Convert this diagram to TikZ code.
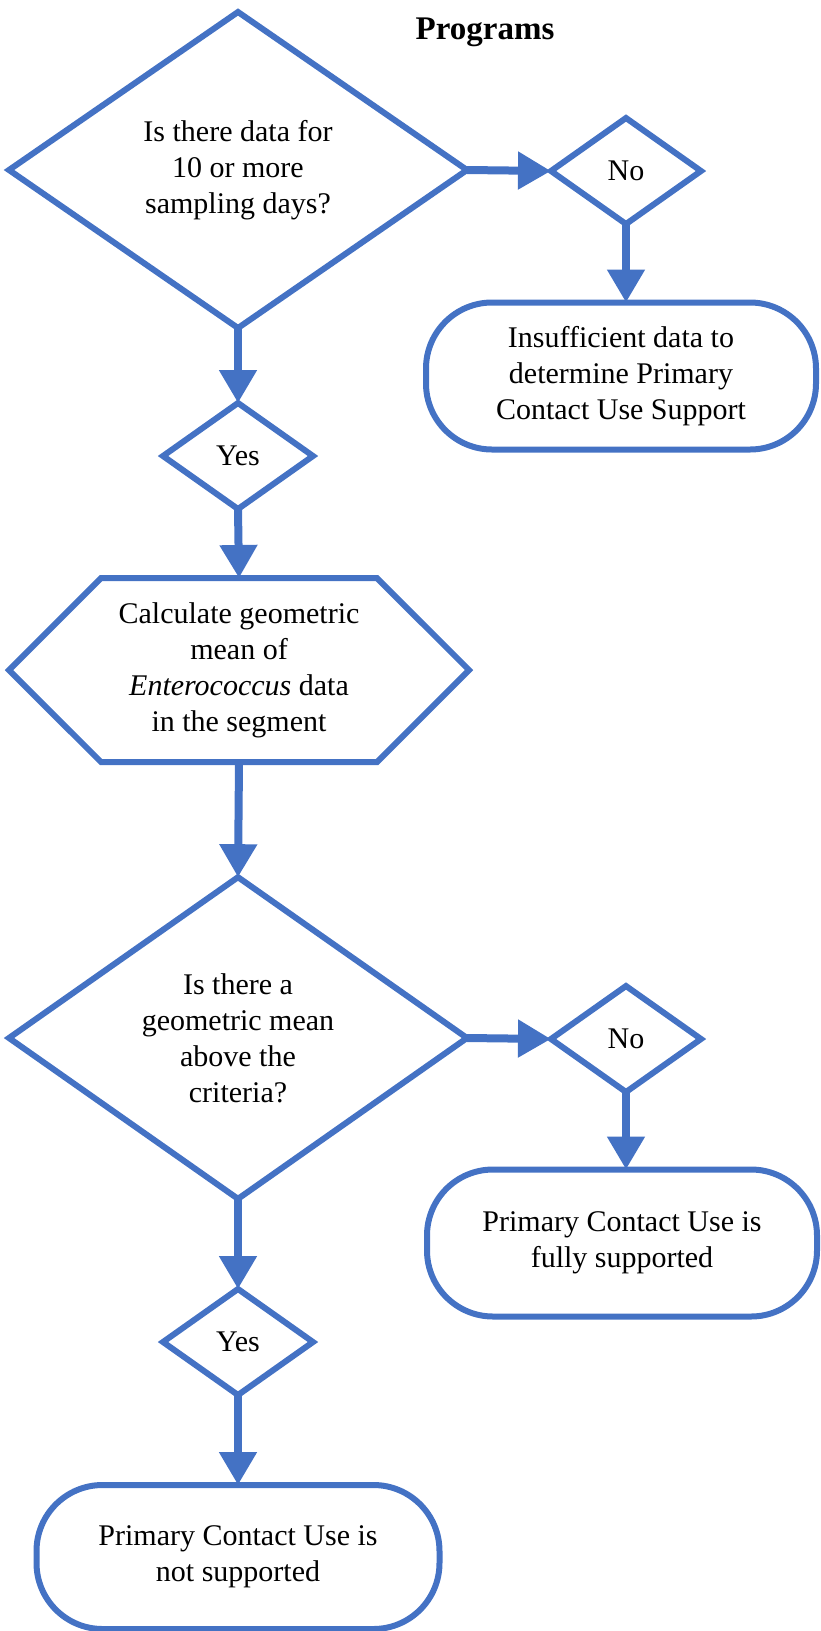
\documentclass[tikz,border=0pt]{standalone}
\usepackage{fontspec}
\setmainfont{Liberation Serif}
\usepackage{tikz}
\usetikzlibrary{arrows.meta,shapes.geometric,shapes.symbols}
\definecolor{flowblue}{HTML}{4472C4}

\begin{document}
\begin{tikzpicture}[x=1pt,y=-1pt,
  every node/.style={font=\fontsize{30}{36}\selectfont,align=center,inner sep=0pt,outer sep=0pt},
  question/.style={diamond,draw=flowblue,line width=6pt,minimum width=458pt,minimum height=316pt},
  answer/.style={diamond,draw=flowblue,line width=6pt,minimum width=150pt,minimum height=106pt},
  terminal/.style={rectangle,rounded corners=66pt,draw=flowblue,line width=6pt,minimum width=390pt,minimum height=147pt},
  process/.style={signal,signal to=west and east,signal pointer angle=90,draw=flowblue,line width=6pt,minimum width=460pt,minimum height=184pt},
  flow/.style={draw=flowblue,line width=8pt,-{Triangle[length=33pt,width=36pt]}}]
  \useasboundingbox (0,0) rectangle (820,1631);
  \node[font=\fontsize{33}{38}\selectfont\bfseries,anchor=base] (title) at (485,39) {Programs};
  \node[question] (q1) at (238,170) {Is there data for\\10 or more\\sampling days?};
  \node[answer] (no1) at (626,171) {No};
  \node[terminal] (end1) at (621,376) {Insufficient data to\\determine Primary\\Contact Use Support};
  \node[answer] (yes1) at (238,456) {Yes};
  \node[process] (calc) at (239,670) {Calculate geometric\\mean of\\\textit{Enterococcus} data\\in the segment};
  \node[question] (q2) at (238,1038) {Is there a\\geometric mean\\above the\\criteria?};
  \node[answer] (no2) at (626,1039) {No};
  \node[terminal] (end2) at (622,1243) {Primary Contact Use is\\fully supported};
  \node[answer] (yes2) at (238,1342) {Yes};
  \node[terminal,minimum width=403pt,minimum height=144pt] (end3) at (238,1557) {Primary Contact Use is\\not supported};
  \draw[flow] (q1.east) -- (no1.west);
  \draw[flow] (no1.south) -- (no1.south |- end1.north);
  \draw[flow] (q1.south) -- (yes1.north);
  \draw[flow] (yes1.south) -- (calc.north);
  \draw[flow] (calc.south) -- (q2.north);
  \draw[flow] (q2.east) -- (no2.west);
  \draw[flow] (no2.south) -- (no2.south |- end2.north);
  \draw[flow] (q2.south) -- (yes2.north);
  \draw[flow] (yes2.south) -- (end3.north);
\end{tikzpicture}
\end{document}
